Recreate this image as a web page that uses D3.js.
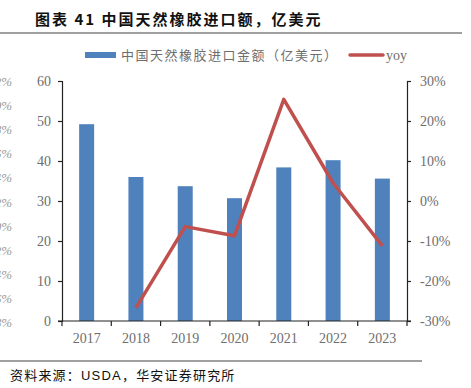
<!DOCTYPE html>
<html>
<head>
<meta charset="utf-8">
<script src="https://cdn.jsdelivr.net/npm/d3@7"></script>
<style>
  body { margin: 0; background: #fff; }
  svg { display: block; }
</style>
</head>
<body>
<svg id="chart" width="471" height="388"></svg>
<script>
// data
var years = ["2017", "2018", "2019", "2020", "2021", "2022", "2023"];
var importValue = [49.2, 36.0, 33.7, 30.7, 38.4, 40.2, 35.6];
var yoy = [null, -26.7, -6.4, -8.7, 25.4, 4.5, -11.2];
var leftTicks = [0, 10, 20, 30, 40, 50, 60];
var rightTicks = [-30, -20, -10, 0, 10, 20, 30];
var ghostLabels = ["12%", "10%", "8%", "6%", "4%", "2%", "0%", "-2%", "-4%", "-6%", "-8%"];

const svg = d3.select("#chart");
var plotLeft = 62, plotRight = 407, plotTop = 81, plotBottom = 321;
var serif = "'Liberation Serif', 'DejaVu Serif', serif";
var cjk = "'Noto Sans CJK SC', sans-serif";
var grey = "#6e6e6e";

var x = d3.scaleBand().domain(years).range([plotLeft, plotRight]);
var y = d3.scaleLinear().domain([0, 60]).range([plotBottom, plotTop]);
var y2 = d3.scaleLinear().domain([-30, 30]).range([plotBottom, plotTop]);

// title
svg.append("text").attr("x", 35).attr("y", 25)
  .style("font-family", cjk).style("font-size", "15px").style("font-weight", "bold")
  .style("letter-spacing", "2px")
  .attr("fill", "#111").text("图表 41  中国天然橡胶进口额，亿美元");
svg.append("line").attr("x1", 0).attr("x2", 462).attr("y1", 33).attr("y2", 33)
  .attr("stroke", "#808080").attr("stroke-width", 1.5);

// clipped labels of a hidden axis at the left edge
svg.append("g").selectAll("text").data(ghostLabels).enter().append("text")
  .attr("x", 12).attr("y", (d, i) => plotTop + i * 24.1 + 5)
  .attr("text-anchor", "end")
  .style("font-family", serif).style("font-size", "13px").style("font-style", "italic")
  .attr("fill", "#999").text(d => d);

// legend
svg.append("rect").attr("x", 85).attr("y", 52).attr("width", 31).attr("height", 6).attr("fill", "#4F81BD");
svg.append("text").attr("x", 121).attr("y", 60)
  .style("font-family", cjk).style("font-size", "13px").style("letter-spacing", "1.5px").attr("fill", grey)
  .text("中国天然橡胶进口金额（亿美元）");
svg.append("line").attr("x1", 350).attr("x2", 383).attr("y1", 55).attr("y2", 55)
  .attr("stroke", "#C0504D").attr("stroke-width", 3.5).attr("stroke-linecap", "round");
svg.append("text").attr("x", 386).attr("y", 60)
  .style("font-family", serif).style("font-size", "14px").attr("fill", grey).text("yoy");

// bars
svg.append("g").selectAll("rect").data(importValue).enter().append("rect")
  .attr("x", (d, i) => x(years[i]) + x.bandwidth() / 2 - 7.5)
  .attr("width", 15)
  .attr("y", d => y(d))
  .attr("height", d => y(0) - y(d))
  .attr("fill", "#4F81BD");

// line
var line = d3.line()
  .defined(d => d != null)
  .x((d, i) => x(years[i]) + x.bandwidth() / 2)
  .y(d => y2(d));
svg.append("path").datum(yoy).attr("d", line)
  .attr("fill", "none").attr("stroke", "#C0504D").attr("stroke-width", 3.5)
  .attr("stroke-linejoin", "round");

// axes
function styleAxis(g) {
  g.selectAll("path, line").attr("stroke", "#222").attr("stroke-width", 1.2);
  g.selectAll("text").style("font-family", serif).style("font-size", "14px").attr("fill", grey);
}
svg.append("g").attr("transform", "translate(" + plotLeft + ",0)")
  .call(d3.axisLeft(y).tickValues(leftTicks).tickSize(4).tickSizeOuter(4).tickPadding(7))
  .call(styleAxis);
svg.append("g").attr("transform", "translate(" + plotRight + ",0)")
  .call(d3.axisRight(y2).tickValues(rightTicks).tickFormat(d => d + "%").tickSize(4).tickSizeOuter(4).tickPadding(9))
  .call(styleAxis);

var xAxis = svg.append("g").attr("transform", "translate(0," + plotBottom + ")")
  .call(d3.axisBottom(x).tickSize(0).tickPadding(12))
  .call(styleAxis);
xAxis.select(".domain").attr("d", "M" + (plotLeft - 4) + ",0H" + (plotRight + 4));
xAxis.selectAll(".sep").data(d3.range(years.length + 1)).enter().append("line")
  .attr("class", "sep")
  .attr("x1", i => plotLeft + i * x.step()).attr("x2", i => plotLeft + i * x.step())
  .attr("y1", 0).attr("y2", 5).attr("stroke", "#222").attr("stroke-width", 1.2);

// source
svg.append("line").attr("x1", 0).attr("x2", 422).attr("y1", 361).attr("y2", 361)
  .attr("stroke", "#808080").attr("stroke-width", 1.5);
var src = svg.append("text").attr("x", 10).attr("y", 380)
  .style("font-family", cjk).style("font-size", "13px").style("letter-spacing", "1.2px").attr("fill", "#111");
src.append("tspan").text("资料来源：");
src.append("tspan").style("font-family", "'Liberation Sans', Arial, sans-serif").text("USDA");
src.append("tspan").text("，华安证券研究所");
</script>
</body>
</html>
